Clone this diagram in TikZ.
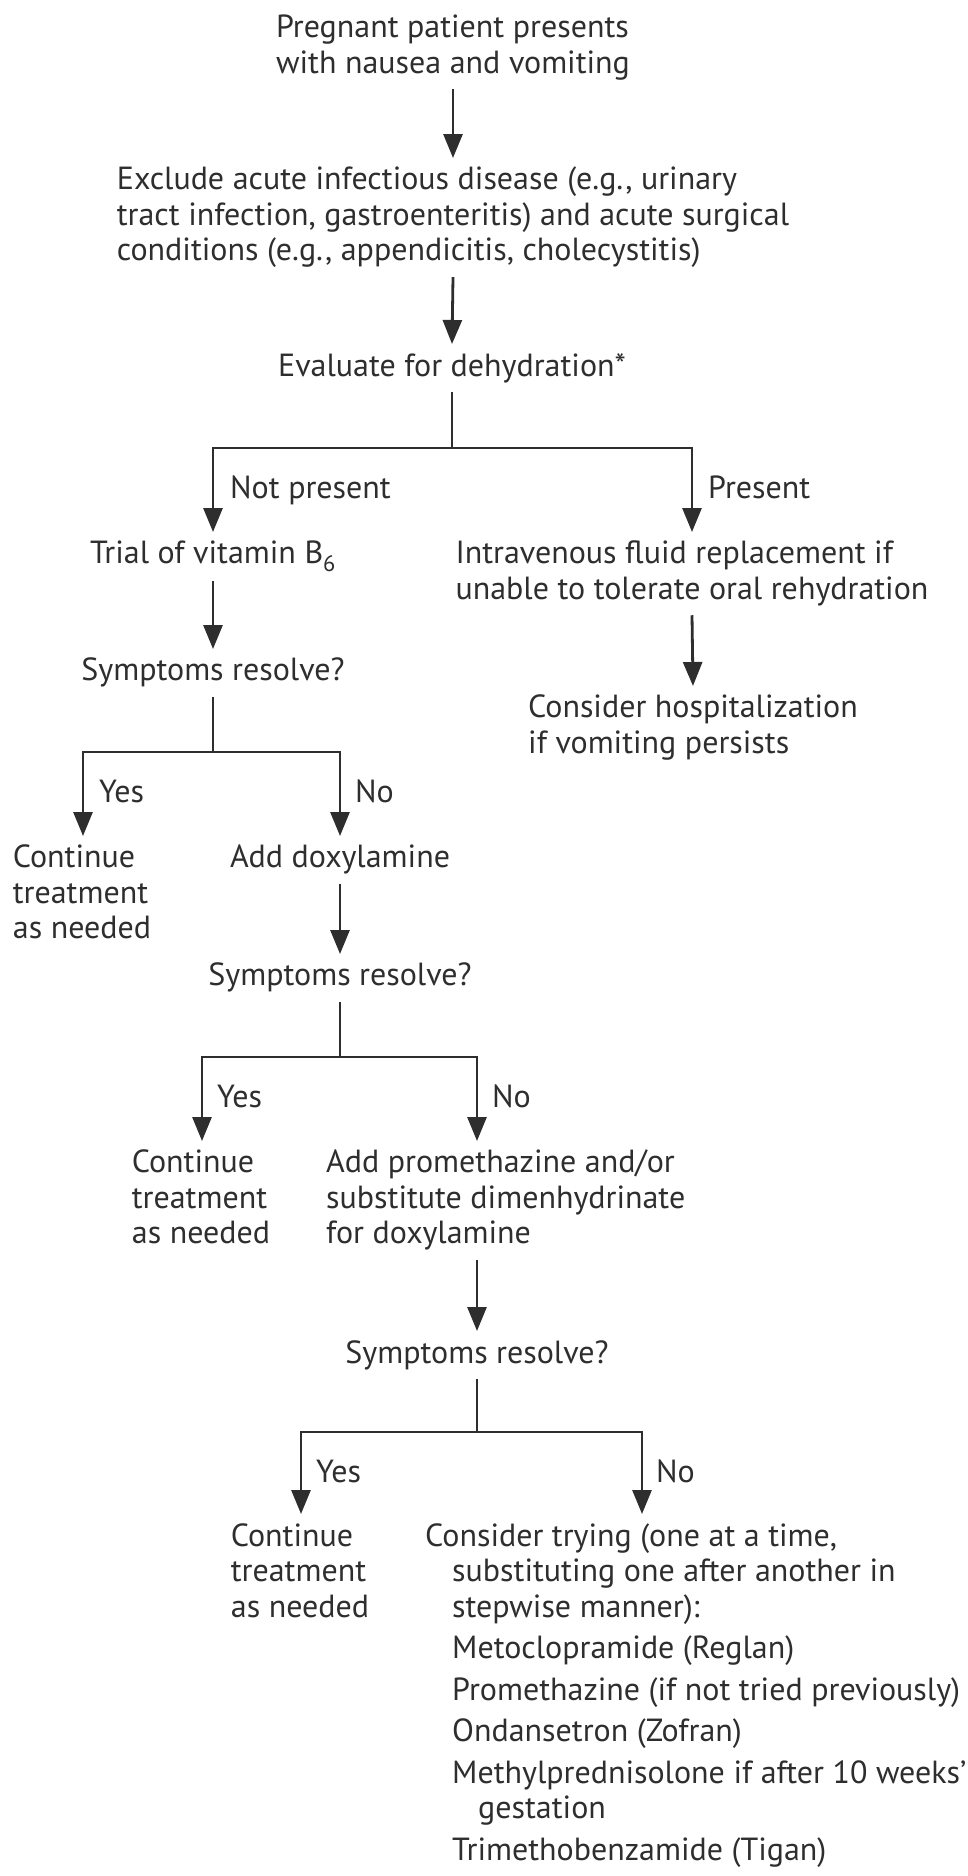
\documentclass[tikz,border=0pt]{standalone}
\usepackage{fontspec}
\setmainfont{PT Sans}
\usetikzlibrary{arrows.meta}
\definecolor{ink}{HTML}{2E2E2E}
\begin{document}
\begin{tikzpicture}[x=1pt,y=-1pt,
  txt/.style={font=\fontsize{32}{35.5}\selectfont, text=ink, inner xsep=0pt, inner ysep=9pt, align=left},
  lab/.style={font=\fontsize{32}{35.5}\selectfont, text=ink, inner sep=0pt, anchor=base west},
  ln/.style={draw=ink, line width=2.8pt},
  arr/.style={draw=ink, line width=2.8pt, -{Triangle[length=24pt,width=19pt]}}]
\useasboundingbox[fill=white] (0,0) rectangle (968,1876);

% main column
\node[txt, anchor=north] (n1) at (453,6) {Pregnant patient presents\\with nausea and vomiting};
\node[txt, anchor=north] (n2) at (453,158) {Exclude acute infectious disease (e.g., urinary\\tract infection, gastroenteritis) and acute surgical\\conditions (e.g., appendicitis, cholecystitis)};
\node[txt, anchor=north] (ev) at (452,344) {Evaluate for dehydration*};

\draw[arr] (n1.south) -- (n2.north);
\draw[arr] (n2.south) -- (ev.north);

% first split
\coordinate (j1) at (452,448);
\coordinate (j1l) at (213,448);
\coordinate (j1r) at (692,448);
\node[txt, anchor=north] (trial) at (213,532) {Trial of vitamin B\textsubscript{6}};
\node[txt, anchor=north] (iv) at (692,532) {Intravenous fluid replacement if\\unable to tolerate oral rehydration};
\node[lab] (notp) at (230,498) {Not present};
\node[lab] (pres) at (708,498) {Present};
\draw[ln] (ev.south) -- (j1);
\draw[arr] (j1) -- (j1l) -- (j1l |- trial.north);
\draw[arr] (j1) -- (j1r) -- (j1r |- iv.north);

\node[txt, anchor=north] (sr1) at (213,649) {Symptoms resolve?};
\node[txt, anchor=north] (hosp) at (693,686) {Consider hospitalization\\if vomiting persists};
\draw[arr] (trial.south) -- (sr1.north);
\draw[arr] (iv.south) -- (hosp.north);

% second split
\coordinate (j2) at (213,752);
\coordinate (j2l) at (83,752);
\coordinate (j2r) at (340,752);
\node[lab] (yes1) at (99,802) {Yes};
\node[lab] (no1) at (355,802) {No};
\node[txt, anchor=north] (cont1) at (82,836) {Continue\\treatment\\as needed};
\node[txt, anchor=north] (doxy) at (340,836) {Add doxylamine};
\draw[ln] (sr1.south) -- (j2);
\draw[arr] (j2) -- (j2l) -- (j2l |- cont1.north);
\draw[arr] (j2) -- (j2r) -- (j2r |- doxy.north);

\node[txt, anchor=north] (sr2) at (340,954) {Symptoms resolve?};
\draw[arr] (doxy.south) -- (sr2.north);

% third split
\coordinate (j3) at (340,1057);
\coordinate (j3l) at (202,1057);
\coordinate (j3r) at (477,1057);
\node[lab] (yes2) at (217,1107) {Yes};
\node[lab] (no2) at (492,1107) {No};
\node[txt, anchor=north] (cont2) at (201,1141) {Continue\\treatment\\as needed};
\node[txt, anchor=north west] (prom) at (326,1141) {Add promethazine and/or\\substitute dimenhydrinate\\for doxylamine};
\draw[ln] (sr2.south) -- (j3);
\draw[arr] (j3) -- (j3l) -- (j3l |- cont2.north);
\draw[arr] (j3) -- (j3r) -- (j3r |- prom.north);

\node[txt, anchor=north] (sr3) at (477,1331) {Symptoms resolve?};
\draw[arr] (prom.south -| sr3.north) -- (sr3.north);

% fourth split
\coordinate (j4) at (477,1432);
\coordinate (j4l) at (301,1432);
\coordinate (j4r) at (642,1432);
\node[lab] (yes3) at (316,1482) {Yes};
\node[lab] (no3) at (656,1482) {No};
\node[txt, anchor=north] (cont3) at (300,1514) {Continue\\treatment\\as needed};
\node[txt, anchor=north west] (cons) at (425,1514) {Consider trying (one at a time,\\
\hspace*{27pt}substituting one after another in\\
\hspace*{27pt}stepwise manner):\\[6pt]
\hspace*{27pt}Metoclopramide (Reglan)\\[6pt]
\hspace*{27pt}Promethazine (if not tried previously)\\[6pt]
\hspace*{27pt}Ondansetron (Zofran)\\[6pt]
\hspace*{27pt}Methylprednisolone if after 10 weeks’\\
\hspace*{53pt}gestation\\[6pt]
\hspace*{27pt}Trimethobenzamide (Tigan)};
\draw[ln] (sr3.south) -- (j4);
\draw[arr] (j4) -- (j4l) -- (j4l |- cont3.north);
\draw[arr] (j4) -- (j4r) -- (j4r |- cons.north);
\end{tikzpicture}
\end{document}
